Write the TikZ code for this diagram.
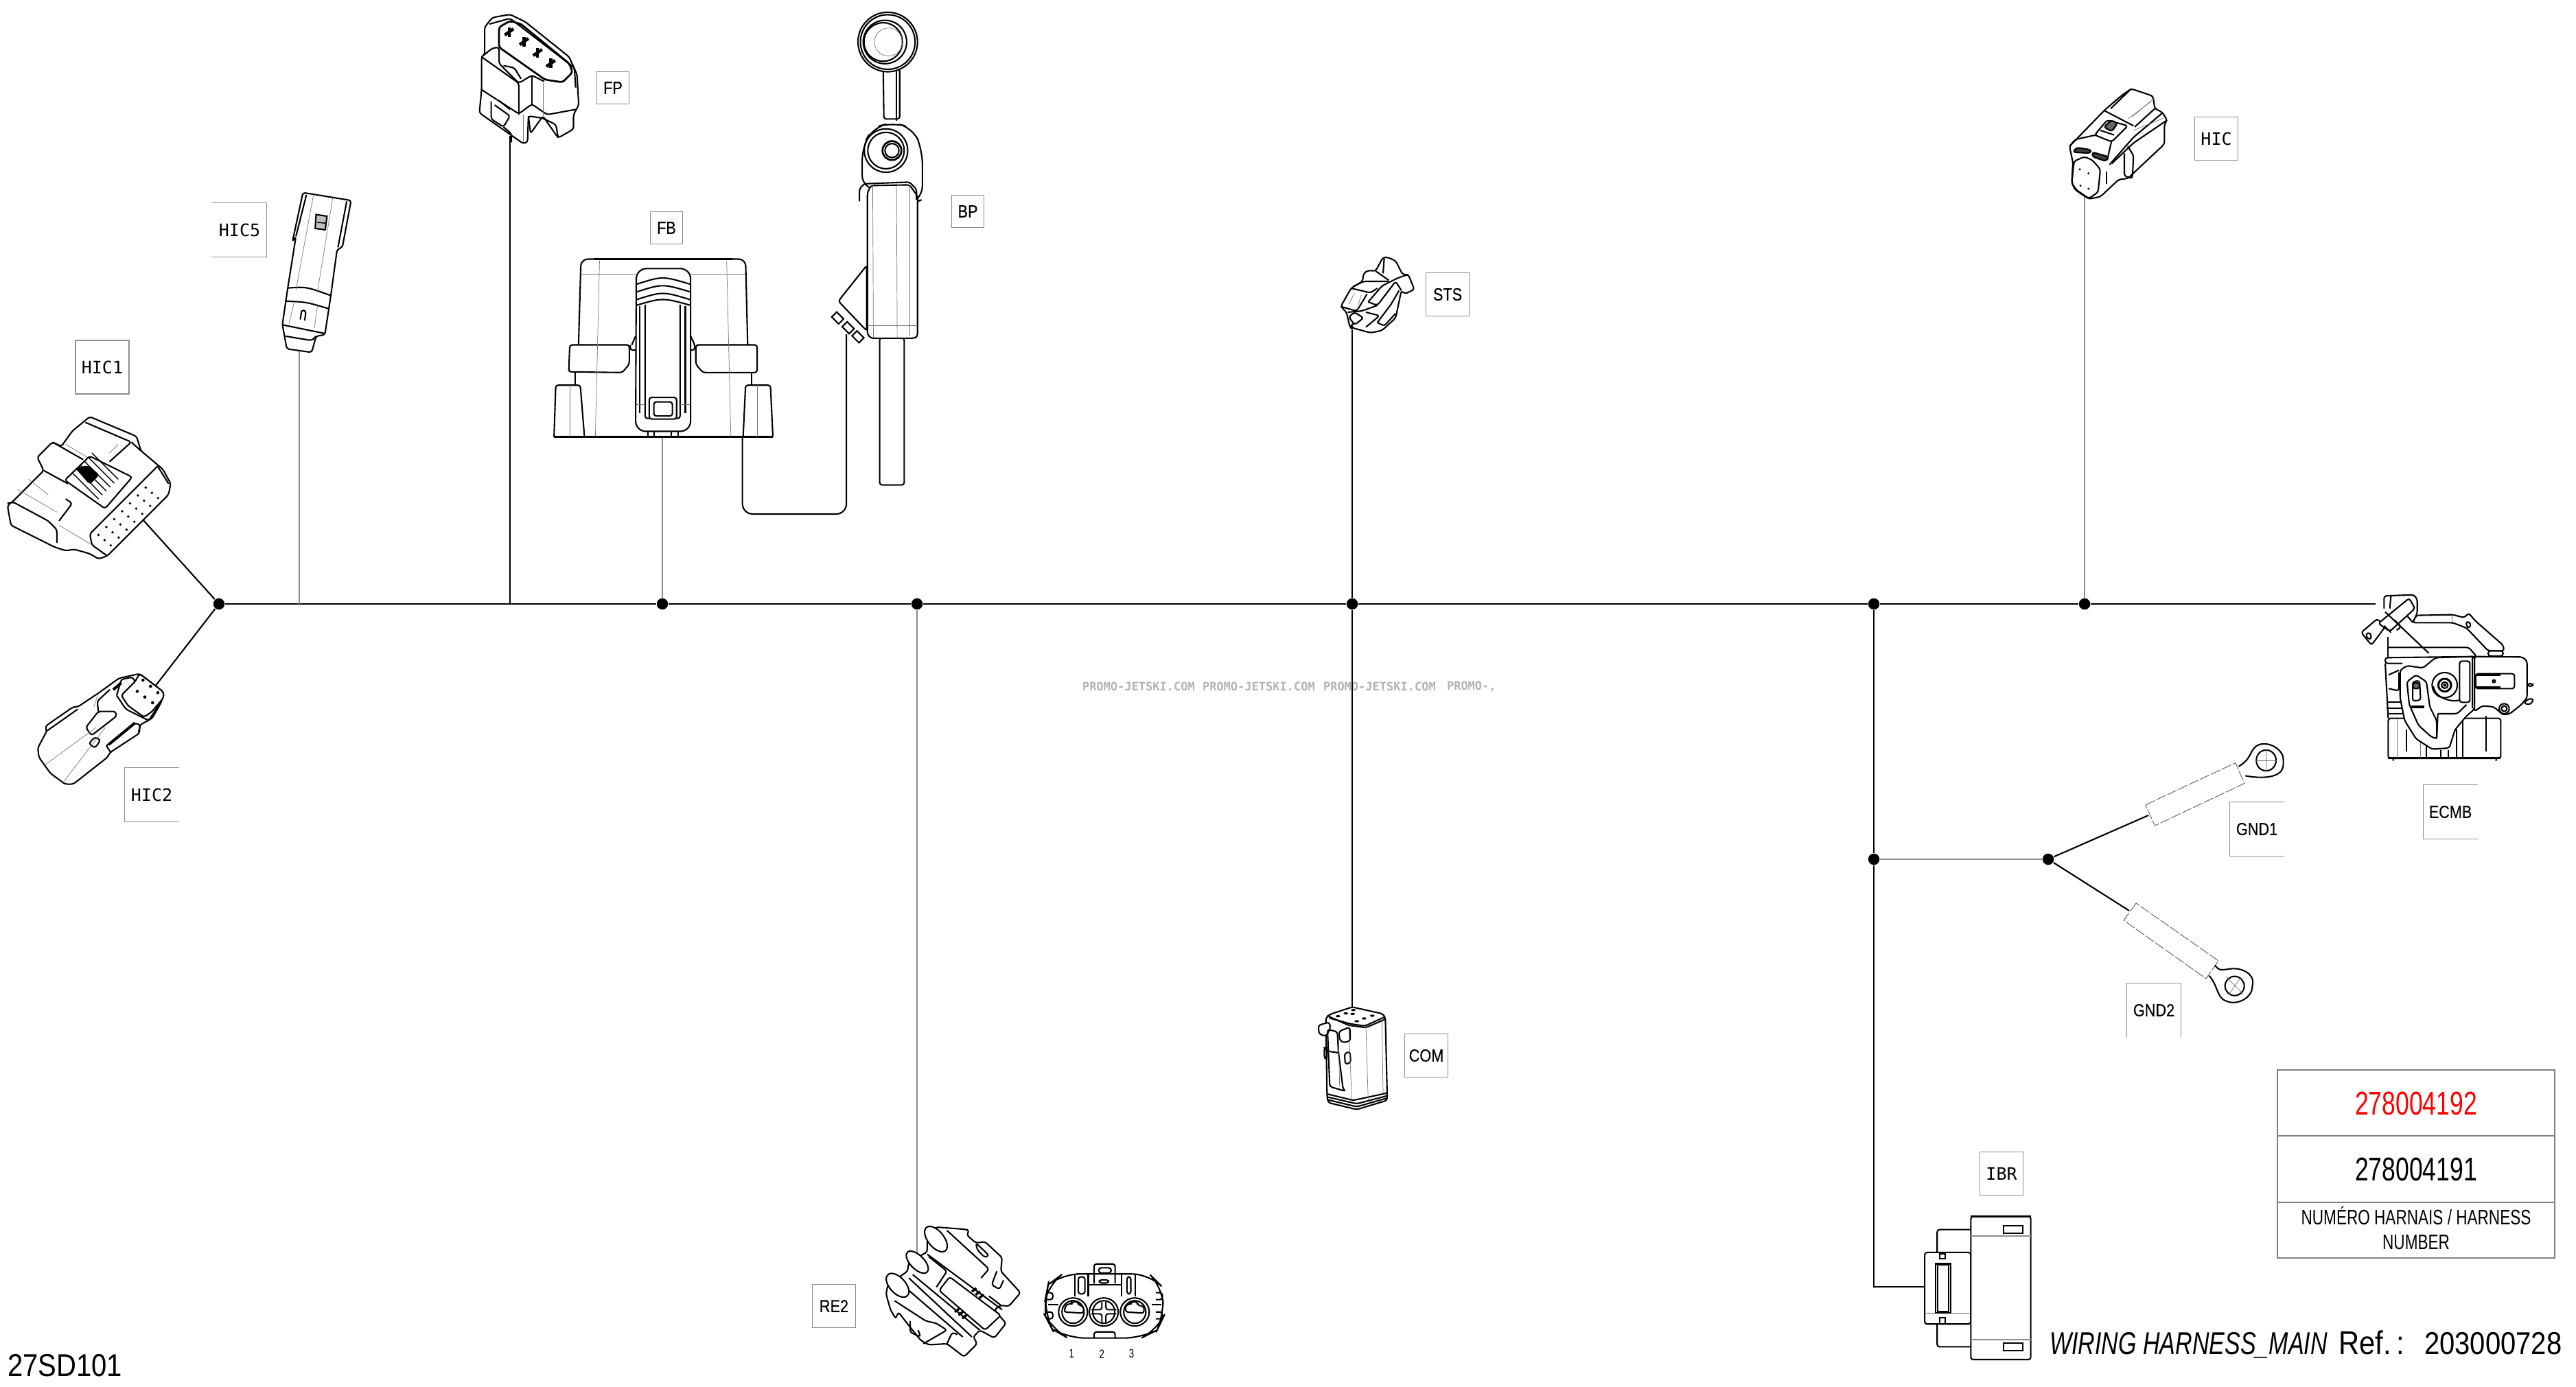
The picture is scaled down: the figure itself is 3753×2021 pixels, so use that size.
\documentclass[tikz,border=0pt]{standalone}
\usepackage{fontspec}
\setmainfont{Liberation Sans}
\newfontfamily\tagmono{DejaVu Sans Mono}
\newfontfamily\tagsans[FakeStretch=0.85,FakeBold=0.25]{Liberation Sans}
\newfontfamily\narrowfont[FakeStretch=0.74]{Liberation Sans}
\newfontfamily\refont[FakeStretch=0.87]{Liberation Sans}
\tikzset{
  wire/.style={draw=black, line width=0.42pt},
  lead/.style={draw=black!45, line width=0.34pt},
  joint/.style={circle, fill=black, inner sep=0pt, minimum size=3.3pt},
  part/.style={draw=black, line width=0.42pt, rounded corners=0.7pt, line join=round},
  fine/.style={draw=black!55, line width=0.14pt},
  sleeve/.style={draw=black!60, line width=0.2pt, dash pattern=on 3pt off 0.5pt},
  tagS/.style={draw=black!45, line width=0.25pt, inner sep=0pt, minimum size=9.4pt, font=\tagsans\fontsize{5.1}{6}\selectfont},
  tagM/.style={tagS, minimum size=12.6pt},
  tagL/.style={tagS, minimum size=15.6pt},
  tagmonofont/.style={font=\tagmono\fontsize{5}{6}\selectfont},
  tagopen/.style={draw=none},
  tagline/.style={draw=black!45, line width=0.25pt},
  tablerule/.style={draw=black!50, line width=0.3pt},
  stamp/.style={inner sep=0pt, text=black!30, font=\tagmono\bfseries\fontsize{3.4}{4}\selectfont},
}
\begin{document}
\begin{tikzpicture}[x=0.2pt,y=-0.2pt]
\useasboundingbox (0,0) rectangle (3753,2021);
% watermark
\node [stamp, anchor=west] (wma) at (1576,1000) {PROMO-JETSKI.COM};
\node [stamp, anchor=west] (wmb) at (1751,1000) {PROMO-JETSKI.COM};
\node [stamp, anchor=west] (wmc) at (1927,1000) {PROMO-JETSKI.COM};
\node [stamp, anchor=west] (wmd) at (2107,1000) {PROMO-,};
% junctions
\node [joint] (jleft) at (319,880) {};
\node [joint] (jfb) at (965,880) {};
\node [joint] (jre) at (1336,880) {};
\node [joint] (jcom) at (1970,880) {};
\node [joint] (jibr) at (2730,880) {};
\node [joint] (jhic) at (3037,880) {};
\node [joint] (jgnd) at (2730,1252) {};
\node [joint] (jfork) at (2984,1252) {};
% free ends
\coordinate (tfive) at (436,880);
\coordinate (tfp) at (743,880);
\coordinate (ehicone) at (198,746);
\coordinate (ehictwo) at (226,1000);
\coordinate (ehicfive) at (436,510);
\coordinate (efp) at (743,198);
\coordinate (efb) at (965,638);
\coordinate (ere) at (1336,1836);
\coordinate (ests) at (1970,480);
\coordinate (ecomp) at (1970,1470);
\coordinate (ehic) at (3037,260);
\coordinate (eecmb) at (3461,880);
\coordinate (eibr) at (2804,1875);
\coordinate (cibr) at (2730,1875);
\coordinate (egndone) at (3130,1188);
\coordinate (egndtwo) at (3102,1327);
% connectors
\draw [wire] (jleft) -- (tfive) -- (tfp) -- (jfb) -- (jre) -- (jcom) -- (jibr) -- (jhic) -- (eecmb);
\draw [wire] (jleft) -- (ehicone);
\draw [wire] (jleft) -- (ehictwo);
\draw [lead] (tfive) -- (ehicfive);
\draw [wire] (tfp) -- (efp);
\draw [lead] (jfb) -- (efb);
\draw [lead] (jre) -- (ere);
\draw [wire] (jcom) -- (ests);
\draw [wire] (jcom) -- (ecomp);
\draw [lead] (jhic) -- (ehic);
\draw [wire] (jibr) -- (jgnd) -- (cibr) -- (eibr);
\draw [lead] (jgnd) -- (jfork);
\draw [wire] (jfork) -- (egndone);
\draw [wire] (jfork) -- (egndtwo);
% HIC1, HIC5, FP
\begin{scope}[scale=0.6378]
% HIC1
\draw [part, fill=white] (205,952) -- (312,997) -- (322,1030) -- (372,1072) -- (390,1105) -- (385,1130) -- (245,1270) -- (225,1277) -- (205,1265) -- (170,1255) -- (150,1258) -- (125,1250) -- (25,1200) -- (17,1155) -- (30,1145) -- (100,1075) -- (85,1045) -- (120,1010) -- (140,1020) -- (165,985) -- cycle;
\draw [part] (17,1150) -- (30,1147) -- (110,1190) -- (130,1210) -- (130,1240);
\draw [part] (360,1065) -- (385,1105);
\draw [part] (360,1065) -- (205,1220) -- (210,1245) -- (245,1270);
\draw [part] (135,1190) -- (165,1150) -- (150,1140);
\draw [part] (100,1075) -- (155,1105);
\draw [part] (120,1010) -- (190,1050);
\draw [part] (195,965) -- (300,1010) -- (250,1055);
\draw [part] (322,1030) -- (300,1010);
\draw [fine] (40,1118) -- (130,1170);
\draw [fine] (150,1015) -- (200,1045);
\draw [fine] (65,1095) -- (110,1130);
\draw [fine] (270,1015) -- (250,1035);
\draw [fine] (135,1200) -- (210,1245);
\draw [part, fill=white] (148,1097) -- (205,1042) -- (302,1090) -- (240,1162) -- cycle;
\foreach \da in {0,9,18,27,36,45}
  \draw [draw=black, line width=0.3pt] (165+\da,1080-\da) -- (225+\da,1140-\da);
\draw [part, fill=black] (175,1070) -- (200,1065) -- (225,1085) -- (205,1105) -- cycle;
\foreach \gi in {0,...,6}
  \foreach \gj in {0,...,2}
    \fill (225+\gi*18+\gj*14,1222-\gi*18+\gj*12) circle (3);
% HIC5
\draw [part, fill=white] (692,440) -- (802,458) -- (782,565) -- (770,570) -- (755,680) -- (742,765) -- (722,768) -- (712,805) -- (655,797) -- (650,768) -- (645,742) -- (657,660) -- (676,540) -- (668,552) -- cycle;
\draw [part] (645,742) -- (742,762);
\draw [part] (657,658) .. controls (700,655) .. (755,675);
\draw [part] (652,688) .. controls (700,690) .. (750,705);
\draw [part] (700,445) -- (676,540);
\draw [part] (792,460) -- (772,565);
\draw [fine] (716,446) -- (676,662);
\draw [fine] (760,452) -- (725,668);
\draw [fine] (672,690) -- (660,740);
\draw [fine] (725,700) -- (718,750);
\draw [draw=black, line width=0.42pt, fill=black!25] (722,490) -- (747,494) -- (743,525) -- (720,522) -- cycle;
\draw [draw=black, line width=0.3pt] (725,508) -- (745,510);
\draw [part] (686,730) -- (689,708) -- (699,710) -- (696,732);
\draw [part] (652,768) -- (712,778) -- (722,768);
% FP
\draw [part, fill=white] (1107,125) -- (1107,62) -- (1125,40) -- (1165,33) -- (1200,50) -- (1300,130) -- (1318,170) -- (1322,240) -- (1310,262) -- (1310,295) -- (1275,315) -- (1270,285) -- (1240,270) -- (1207,265) -- (1205,325) -- (1195,328) -- (1095,258) -- (1100,205) -- (1100,130) -- cycle;
\draw [part, line width=0.55pt, fill=white] (1140,62) -- (1165,48) -- (1190,55) -- (1300,145) -- (1308,165) -- (1285,188) -- (1245,182) -- (1140,108) -- cycle;
\draw [part] (1118,55) -- (1165,42) -- (1312,155) -- (1315,200);
\foreach \px/\py in {1163/73,1197/95,1228/120,1258/145} {
  \draw [draw=black, line width=0.9pt] (\px-10,\py+7) -- (\px+10,\py-7);
  \draw [draw=black, line width=0.9pt] (\px,\py-11) -- (\px,\py+11);
}
\draw [part, fill=white] (1100,130) -- (1125,110) -- (1140,108) -- (1140,145) -- (1185,190) -- (1215,172) -- (1243,186);
\draw [part] (1100,130) -- (1185,190) -- (1185,262);
\draw [part] (1100,205) -- (1185,260) -- (1215,238) -- (1250,262) -- (1315,250);
\draw [part] (1215,172) -- (1215,238);
\draw [part] (1150,150) -- (1175,155) -- (1190,180);
\draw [part] (1122,232) -- (1122,272) -- (1150,290) -- (1165,265) -- (1130,240);
\draw [part] (1150,290) -- (1168,305) -- (1168,325);
\draw [part] (1207,265) -- (1212,305) -- (1240,265) -- (1275,315);
\draw [part] (1140,230) -- (1165,250);
\draw [fine] (1240,190) -- (1240,265);
\draw [fine] (1195,262) -- (1195,325);
\end{scope}
% FB, BP
\begin{scope}[shift={(700,0)},scale=0.5102]
% FB
\draw [part, fill=white, rounded corners=2pt] (280,985) -- (287,740) -- (757,740) -- (763,985);
\draw [draw=black, line width=0.6pt] (325,740) -- (720,740);
\draw [part, fill=white] (425,985) -- (255,985) -- (252,1062) -- (405,1064) -- (425,1040) -- cycle;
\draw [part, fill=white] (615,985) -- (790,985) -- (790,1064) -- (635,1064) -- (615,1040) -- cycle;
\draw [part] (270,1064) -- (270,1100);
\draw [part] (775,1064) -- (775,1100);
\draw [part] (297,1248) -- (285,1100) -- (215,1100) -- (210,1248);
\draw [part] (750,1248) -- (757,1100) -- (828,1100) -- (835,1248);
\draw [draw=black, line width=0.5pt] (210,1248) -- (835,1248);
\draw [fine] (340,745) -- (328,1248);
\draw [fine] (703,745) -- (715,1248);
\draw [fine] (287,783) -- (445,783);
\draw [fine] (600,783) -- (757,783);
\draw [fine] (255,1100) -- (255,1248);
\draw [fine] (790,1100) -- (790,1248);
\draw [part, fill=white, rounded corners=3pt] (443,1232) -- (445,767) -- (600,767) -- (600,1232) -- cycle;
\foreach \ry in {800,822,844} {
  \draw [part] (445,\ry+12) .. controls (520,\ry-12) .. (600,\ry+12);
}
\draw [part] (445,872) .. controls (520,850) .. (600,872);
\draw [part] (455,875) -- (455,1180);
\draw [part] (470,870) -- (470,1195) -- (570,1195) -- (570,870);
\draw [part] (585,875) -- (585,1180);
\draw [fine] (445,1155) -- (470,1155);
\draw [fine] (570,1155) -- (600,1155);
\draw [part, fill=white] (482,1135) rectangle (560,1197);
\draw [part] (495,1148) rectangle (548,1188);
\draw [part] (478,1232) -- (478,1248);
\draw [part] (495,1232) -- (495,1248);
\draw [part] (545,1232) -- (545,1248);
\draw [part] (565,1232) -- (565,1248);
\draw [part] (428,985) -- (428,1000) -- (443,1000);
\draw [part] (600,960) -- (612,985) -- (612,1000) -- (600,1000);
\draw [part] (443,960) -- (432,985);
% BP
\draw [part, rounded corners=3pt] (748,1248) -- (748,1468) -- (1045,1468) -- (1045,955);
\draw [part, fill=white] (1140,965) rectangle (1210,1385);
\draw [part, fill=white] (1150,195) -- (1152,340) -- (1197,340) -- (1197,195) -- cycle;
\draw [part] (1187,195) -- (1187,345);
\draw [part, fill=white] (1163,120) circle (85);
\draw [part] (1163,120) circle (78);
\draw [part] (1155,120) circle (62);
\draw [part] (1150,120) circle (55);
\draw [fine] (1165,120) circle (40);
\draw [part, fill=white, rounded corners=4pt] (1090,540) -- (1090,420) -- (1120,365) -- (1175,350) -- (1235,365) -- (1262,430) -- (1262,570) -- (1222,585) -- (1222,540) -- cycle;
\draw [part] (1158,430) circle (62);
\draw [part] (1158,430) circle (52);
\draw [part, line width=0.55pt] (1175,430) circle (27);
\draw [part] (1175,430) circle (20);
\draw [part] (1022,860) -- (1103,758) -- (1103,945) -- cycle;
\foreach \bx/\by in {1020/908,1050/936,1078/962}
  \draw [draw=black, line width=0.42pt, fill=white, rotate around={45:(\bx,\by)}] (\bx-10,\by-14) rectangle (\bx+10,\by+14);
\draw [part, fill=white] (1105,575) -- (1105,550) -- (1115,530) -- (1225,528) -- (1248,560) -- (1248,960) -- (1240,966) -- (1115,966) -- (1105,955) -- cycle;
\draw [part] (1082,575) -- (1082,540) -- (1095,525) -- (1225,520) -- (1245,540) -- (1245,570);
\draw [fine] (1120,530) -- (1122,962);
\draw [fine] (1188,530) -- (1190,962);
\draw [fine] (1225,530) -- (1225,960);
\draw [fine] (1105,930) -- (1248,930);
\end{scope}
% STS
\begin{scope}[shift={(1850,330)},scale=0.3333]
\draw [part, fill=white] (310,350) -- (355,270) -- (405,240) -- (410,205) -- (430,192) -- (462,195) -- (495,135) -- (515,135) -- (550,150) -- (580,210) -- (605,210) -- (632,275) -- (590,295) -- (575,280) -- (550,400) -- (490,455) -- (440,465) -- (350,440) -- (335,375) -- cycle;
\draw [part] (355,270) -- (440,290) -- (470,270);
\draw [part] (365,262) -- (410,240) -- (520,240);
\draw [part] (310,350) -- (380,370) -- (425,295);
\draw [part] (430,330) -- (490,260) -- (560,225) -- (605,210);
\draw [part] (430,330) -- (470,345) -- (550,240) -- (575,280);
\draw [part] (470,420) -- (530,340) -- (565,280);
\draw [part] (470,420) -- (500,435) -- (550,380);
\draw [part] (462,195) -- (520,235);
\draw [part] (500,140) -- (495,205);
\draw [part] (340,375) -- (400,370) -- (470,345);
\draw [part] (345,395) -- (370,375) -- (410,400) -- (370,430) -- cycle;
\draw [part] (420,375) -- (480,390) -- (420,440);
\draw [part] (350,440) -- (365,425);
\fill (357,440) circle (8);
\draw [fine] (345,340) -- (370,290);
\draw [fine] (385,345) -- (400,300);
\end{scope}
% COM
\begin{scope}[shift={(1850,1420)},scale=0.3333]
\draw [part, fill=white] (245,190) -- (260,175) -- (360,142) -- (495,172) -- (505,190) -- (513,530) -- (513,550) -- (380,590) -- (255,560) -- (250,530) -- cycle;
\draw [part] (260,190) -- (350,215) -- (415,225) -- (503,185);
\draw [part] (250,180) -- (345,222) -- (420,232) -- (505,195);
\draw [part] (250,522) -- (365,550) -- (513,518);
\draw [part] (250,535) -- (380,565) -- (513,530);
\draw [part] (255,548) -- (380,578) -- (513,540);
\draw [part, fill=white] (212,222) -- (260,208) -- (265,235) -- (245,270) -- (215,260) -- cycle;
\draw [part, fill=white] (302,248) -- (350,230) -- (352,290) -- (320,298) -- (305,285) -- cycle;
\draw [part] (252,240) -- (295,250) -- (300,340) -- (320,500) -- (330,510) -- (262,490) -- cycle;
\draw [part] (252,335) -- (300,342);
\draw [part] (238,320) -- (248,320) -- (250,370) -- (238,365) -- cycle;
\draw [part, fill=white] (326,345) -- (350,337) -- (354,385) -- (330,393) -- cycle;
\draw [fine] (420,230) -- (430,550);
\draw [fine] (345,220) -- (358,545);
\draw [fine] (490,190) -- (495,520);
\draw [fine] (300,250) -- (305,490);
\foreach \dx/\dy in {365/155,298/182,332/170,362/172,448/180,380/204,412/192}
  \fill (\dx,\dy) ellipse (10 and 5);
\end{scope}
% HIC
\begin{scope}[shift={(2980,100)},scale=0.3333]
\draw [part, fill=white] (105,340) -- (260,180) -- (330,120) -- (375,88) -- (470,120) -- (478,175) -- (510,190) -- (532,225) -- (520,245) -- (520,330) -- (360,480) -- (320,485) -- (240,560) -- (190,570) -- (130,530) -- (115,500) -- (120,410) -- cycle;
\draw [part] (260,185) -- (385,250);
\draw [part] (375,88) -- (285,175);
\draw [part] (478,175) -- (390,255);
\draw [part] (510,195) -- (385,300) -- (280,420);
\draw [part] (532,225) -- (385,325) -- (290,415);
\draw [part] (105,340) -- (130,310) -- (220,290) -- (290,310) -- (270,400);
\draw [part, fill=white] (215,290) -- (270,225) -- (360,250) -- (290,320) -- cycle;
\draw [part, fill=black!60] (255,255) -- (290,225) -- (315,240) -- (290,275) -- cycle;
\draw [part] (240,270) -- (300,290);
\draw [part, fill=black!75] (135,345) -- (200,355) -- (195,370) -- (120,365) -- cycle;
\draw [part, fill=black!75] (205,365) -- (275,385) -- (265,405) -- (205,385) -- cycle;
\draw [part, fill=white] (125,405) -- (170,385) -- (205,400) -- (240,440) -- (230,540) -- (190,568) -- (135,530) -- (115,500) -- cycle;
\draw [part] (345,370) -- (345,470) -- (380,480) -- (385,380) -- (360,340);
\draw [part] (268,450) -- (268,505);
\draw [fine] (380,210) -- (475,130);
\draw [fine] (360,220) -- (460,145);
\draw [fine] (385,270) -- (520,215);
\foreach \dx/\dy in {150/440,188/458,153/512,188/525}
  \fill (\dx,\dy) circle (5);
\end{scope}
% HIC2
\begin{scope}[shift={(30,950)},scale=0.3333]
\draw [part, fill=white] (520,95) -- (625,175) -- (615,220) -- (575,290) -- (520,320) -- (520,355) -- (390,440) -- (380,460) -- (230,578) -- (195,578) -- (130,530) -- (80,460) -- (75,420) -- (115,345) -- (108,325) -- (230,240) -- (250,240) -- (340,180) -- (430,115) -- cycle;
\draw [part] (115,345) -- (250,250);
\draw [part, fill=white] (285,330) -- (340,260) -- (415,260) -- (420,280) -- (310,365) -- cycle;
\draw [part] (340,260) -- (335,215) -- (390,165);
\draw [part] (375,410) -- (500,310) -- (525,320) -- (515,350);
\draw [draw=black, line width=0.8pt] (385,405) -- (500,310);
\draw [part] (375,410) -- (395,440);
\draw [part, fill=white] (298,400) -- (325,372) -- (350,385) -- (325,420) -- cycle;
\draw [part, fill=white] (440,190) -- (500,130) -- (520,95) -- (625,175) -- (625,200) -- (575,260) -- (540,285) -- (470,235) -- cycle;
\draw [part] (420,190) -- (460,250) -- (560,300) -- (605,230);
\draw [part] (420,190) -- (440,120) -- (490,110) -- (500,130);
\draw [draw=black, line width=0.8pt] (405,165) -- (440,135);
\draw [fine] (105,495) -- (330,330);
\draw [fine] (190,565) -- (370,330);
\draw [fine] (340,180) -- (320,240);
\foreach \dx/\dy in {535/123,568/150,600/178,510/172,543/197,577/222}
  \fill (\dx,\dy) circle (7);
\end{scope}
% ECMB
\begin{scope}[shift={(3420,850)},scale=0.3333]
\draw [part] (178,235) -- (178,325);
\draw [part, fill=white] (178,280) -- (530,280) -- (565,320) -- (165,325) -- (165,350) -- (240,350);
\draw [part] (178,590) rectangle (670,765);
\draw [draw=black, line width=0.6pt] (178,765) -- (670,765);
\draw [part] (165,350) -- (178,590);
\draw [part] (178,520) -- (240,520);
\draw [part] (170,545) -- (240,545);
\draw [part] (178,570) -- (240,570);
\draw [part] (180,400) -- (225,380);
\draw [part] (180,460) -- (225,470) -- (225,390);
\draw [fine] (218,590) -- (218,765);
\draw [part] (258,640) -- (258,735);
\draw [fine] (318,630) -- (318,765);
\draw [part] (345,600) -- (345,765);
\draw [part] (407,730) -- (407,765);
\draw [part] (440,730) -- (440,765);
\draw [part] (478,640) -- (478,765);
\draw [part] (505,600) -- (505,765);
\draw [part] (605,580) -- (605,735);
\fill (200,772) circle (5);
\fill (650,772) circle (5);
% tube on top
\draw [part, fill=white] (285,172) -- (300,140) -- (460,137) -- (510,150) -- (530,130) -- (560,165) -- (680,270) -- (685,295) -- (615,295) -- (520,195) -- (460,172) -- cycle;
\draw [fine] (458,137) -- (458,172);
\draw [part] (520,165) -- (540,175) -- (535,195) -- (520,190) -- cycle;
\draw [part] (615,295) rectangle (680,318);
\draw [part, fill=white] (160,110) -- (160,55) -- (290,50) -- (305,70) -- (305,130) -- (285,172);
\draw [part] (190,55) -- (185,110);
\draw [part] (250,130) -- (285,170);
% box on the right
\draw [part, fill=white] (555,320) -- (765,322) -- (785,340) -- (785,500) -- (760,530) -- (710,570) -- (680,575) -- (640,540) -- (590,535) -- (555,560) -- cycle;
\draw [part, fill=white] (560,395) rectangle (730,460);
\draw [draw=black, line width=0.7pt] (560,400) -- (670,400);
\draw [draw=black, line width=0.7pt] (560,455) -- (670,455);
\draw [part] (640,428) circle (6);
\draw [part, fill=white] (685,548) circle (22);
\draw [part] (685,548) circle (12);
\draw [part, fill=white] (770,525) -- (790,505) -- (815,505) -- (800,530) -- cycle;
\draw [part] (788,438) rectangle (810,450);
% bracket
\draw [part, fill=white] (230,380) -- (260,360) -- (330,370) -- (385,325) -- (555,320) -- (555,550) -- (520,580) -- (470,640) -- (445,720) -- (370,725) -- (300,680) -- (250,600) -- (230,500) -- cycle;
\draw [part] (490,340) rectangle (535,520);
\draw [part] (545,322) -- (545,545);
\draw [part, fill=white] (260,430) -- (300,400) -- (345,430) -- (360,540) -- (390,600) -- (390,680) -- (365,670) -- (310,620) -- (270,530) -- cycle;
\draw [part] (285,430) -- (315,425) -- (320,510) -- (285,515) -- cycle;
\draw [draw=black, line width=0.8pt] (280,540) -- (335,540);
\draw [part, fill=black!60] (285,435) rectangle (315,460);
\draw [part] (395,570) -- (480,570) -- (520,530);
\draw [part] (395,570) -- (390,680);
\draw [part] (425,445) circle (55);
\draw [part] (375,450) .. controls (385,510) and (470,520) .. (490,510);
\draw [part, line width=0.6pt] (425,445) circle (28);
\draw [part] (425,445) circle (14);
\draw [part] (425,445) circle (5);
% plug
\draw [part, fill=white] (60,215) -- (130,155) -- (165,190) -- (105,270) -- cycle;
\draw [part] (80,220) -- (100,215) -- (105,245) -- (85,240) -- cycle;
\draw [part, fill=white] (135,175) -- (270,65) -- (295,110) -- (185,210) -- cycle;
\draw [part] (160,185) -- (190,215);
\draw [part] (205,160) -- (235,190) -- (215,205);
\draw [wire] (165,125) -- (355,305);
\end{scope}
% IBR
\begin{scope}[shift={(2700,1500)},xscale=0.6716,yscale=0.3322]
\draw [part] (255,878) -- (182,878) -- (182,978);
\draw [part] (255,1392) -- (182,1392) -- (182,1292);
\draw [part, fill=white] (155,978) -- (255,978) -- (255,1292) -- (155,1292) -- cycle;
\draw [fine] (155,1245) -- (255,1245);
\draw [draw=black, line width=0.42pt] (178,1028) rectangle (212,1242);
\draw [draw=black, line width=0.42pt] (183,1032) rectangle (207,1238);
\draw [draw=black, line width=0.42pt] (187,985) rectangle (200,1005);
\draw [draw=black, line width=0.42pt] (187,1265) rectangle (200,1290);
\draw [part, fill=white] (255,820) rectangle (385,1448);
\draw [draw=black, line width=0.6pt] (255,820) -- (385,820);
\draw [lead] (255,905) -- (385,905);
\draw [lead] (255,1360) -- (385,1360);
\draw [draw=black, line width=0.42pt] (326,862) rectangle (368,895);
\draw [draw=black, line width=0.42pt] (326,1376) rectangle (368,1408);
\end{scope}
% RE2 and its front view
\begin{scope}[shift={(1150,1750)},xscale=0.3827,yscale=0.33]
\draw [part, fill=white] (558,115) -- (670,125) -- (685,130) -- (675,150) -- (710,185) -- (745,180) -- (810,250) -- (805,310) -- (880,405) -- (835,465) -- (805,460) -- (780,480) -- (825,540) -- (780,605) -- (725,570) -- (700,600) -- (715,630) -- (665,688) -- (600,630) -- (530,635) -- (500,615) -- (455,550) -- (415,490) -- (405,520) -- (385,480) -- (368,410) -- (375,370) -- (450,310) -- (455,270) -- (525,225) -- (525,170) -- cycle;
\draw [part] (600,130) -- (760,300) -- (730,340);
\draw [part] (525,235) -- (810,480);
\draw [part] (530,245) -- (600,310) -- (560,380);
\draw [part] (470,325) -- (725,570);
\draw [part] (455,340) -- (695,600);
\draw [part] (445,385) -- (660,600);
\draw [part] (400,440) -- (520,530) -- (560,540) -- (600,570) -- (510,630);
\draw [part, fill=white] (570,395) -- (610,335) -- (805,505) -- (745,570) -- cycle;
\draw [part] (710,185) -- (760,240) -- (745,250) -- (715,215) -- cycle;
\draw [part] (790,310) -- (770,370) -- (800,390) -- (815,350);
\draw [part] (805,460) -- (760,420);
\draw [part] (460,530) -- (460,580) -- (500,600) -- (490,570);
\draw [part] (600,630) -- (620,580) -- (640,590);
\foreach \sx in {0,14,28} {
  \draw [draw=black, line width=0.7pt] (695+\sx,400+\sx) -- (712+\sx,385+\sx);
  \draw [draw=black, line width=0.7pt] (630+\sx,490+\sx) -- (647+\sx,475+\sx);
}
\draw [part, fill=white] (558,168) ellipse [x radius=63, y radius=32, rotate=-58];
\draw [part, fill=white] (487,270) ellipse [x radius=58, y radius=28, rotate=-52];
\draw [part, fill=white] (412,372) ellipse [x radius=60, y radius=32, rotate=-55];
% front view
\draw [part, fill=white, rounded corners=5pt] (975,430) -- (985,370) -- (1040,322) -- (1160,322) -- (1370,322) -- (1420,380) -- (1425,510) -- (1400,570) -- (1340,605) -- (1060,605) -- (1000,565) -- (975,510) -- cycle;
\draw [part] (1160,365) -- (1160,278) -- (1240,278) -- (1240,365);
\draw [part] (1178,318) -- (1178,295) -- (1225,295) -- (1225,318) -- cycle;
\draw [part] (1140,370) -- (1265,370);
\draw [part] (1180,362) rectangle (1215,348);
\draw [part] (1160,605) -- (1160,578) -- (1240,578) -- (1240,605);
\foreach \cx in {1080,1197,1315} {
  \draw [part, fill=white] (\cx,490) ellipse (55 and 62);
  \draw [part] (\cx,490) ellipse (42 and 50);
}
\draw [part] (1088,322) -- (1088,420);
\draw [part] (1138,322) -- (1138,420);
\draw [part] (1100,335) rectangle (1125,410);
\draw [part] (1265,322) -- (1265,420);
\draw [part] (1318,322) -- (1318,420);
\draw [part] (1285,335) rectangle (1300,410);
\draw [part] (1045,490) -- (1055,455) -- (1075,455) -- (1075,445) -- (1100,445) -- (1100,460) -- (1120,465) -- (1120,495) -- cycle;
\draw [part] (1280,490) -- (1280,460) -- (1300,455) -- (1300,445) -- (1325,445) -- (1325,460) -- (1350,465) -- (1350,495) -- cycle;
\draw [part] (1150,480) -- (1190,480) -- (1190,445);
\draw [part] (1205,445) -- (1205,480) -- (1245,480);
\draw [part] (1150,498) -- (1190,498) -- (1190,535);
\draw [part] (1205,535) -- (1205,498) -- (1245,498);
\draw [part] (980,405) -- (1003,405) -- (1003,435) -- (980,435);
\draw [part] (980,490) -- (1003,490) -- (1003,520) -- (980,520);
\draw [part] (985,458) -- (1025,458);
\draw [part] (1395,405) -- (1420,405) -- (1420,435) -- (1395,435);
\draw [part] (1395,490) -- (1420,490) -- (1420,520) -- (1395,520);
\draw [part] (1380,458) -- (1415,458);
\node [font=\narrowfont\fontsize{3.6}{4}\selectfont, inner sep=0pt] (pinone) at (1075,675) {1};
\node [font=\narrowfont\fontsize{3.6}{4}\selectfont, inner sep=0pt] (pintwo) at (1190,675) {2};
\node [font=\narrowfont\fontsize{3.6}{4}\selectfont, inner sep=0pt] (pinthree) at (1303,675) {3};
\end{scope}
% ground eyelets
\begin{scope}[shift={(3000,800)},xscale=0.4802,yscale=0.4464]
\draw [sleeve] (262,835) -- (535,698) -- (562,765) -- (290,903) -- cycle;
\draw [part] (545,710) .. controls (570,690) .. (590,650) .. controls (625,620) and (680,650) .. (680,695) .. controls (680,750) and (610,750) .. (565,740);
\draw [part] (628,690) ellipse (30 and 34);
\draw [fine] (595,690) -- (660,690);
\draw [fine] (628,655) -- (628,725);
\end{scope}
\draw [sleeve] (3112,1316) -- (3094,1341) -- (3214,1426) -- (3232,1400) -- cycle;
\begin{scope}[shift={(3080,1380)},scale=0.3333]
\draw [part] (440,80) .. controls (460,100) .. (490,98) .. controls (560,85) and (610,120) .. (605,165) .. controls (600,225) and (540,250) .. (495,238) .. controls (450,220) and (450,160) .. (415,125);
\draw [part] (527,170) circle (42);
\draw [fine] (490,130) -- (565,205);
\draw [fine] (555,130) -- (500,210);
\end{scope}
% tags
\node [tagS] (fp) at (893,128) {FP};
\node [tagS] (fb) at (971,332) {FB};
\node [tagS] (bp) at (1410,308) {BP};
\node [tagL, tagmonofont] (hicone) at (149,535) {HIC1};
\node [tagL, tagmonofont, tagopen] (hicfive) at (349,335) {HIC5};
\node [tagL, tagmonofont, tagopen] (hictwo) at (221,1158) {HIC2};
\node [tagM] (sts) at (2109,429) {STS};
\node [tagM] (com) at (2078,1538) {COM};
\node [tagM, tagmonofont] (hic) at (3229,202) {HIC};
\node [tagM] (re) at (1215,1903) {RE2};
\node [tagM, tagmonofont] (ibr) at (2916,1710) {IBR};
\node [tagL, tagopen] (gndone) at (3288,1208) {GND1};
\node [tagL, tagopen] (ecmb) at (3570,1183) {ECMB};
\node [tagL, tagopen] (gndtwo) at (3138,1472) {GND2};
\draw [tagline] (hicfive.north west) -- (hicfive.north east) -- (hicfive.south east) -- (hicfive.south west);
\draw [tagline] (hictwo.north east) -- (hictwo.north west) -- (hictwo.south west) -- (hictwo.south east);
\draw [tagline] (gndone.north east) -- (gndone.north west) -- (gndone.south west) -- (gndone.south east);
\draw [tagline] (ecmb.north east) -- (ecmb.north west) -- (ecmb.south west) -- (ecmb.south east);
\draw [tagline] (gndtwo.south west) -- (gndtwo.north west) -- (gndtwo.north east) -- (gndtwo.south east);
% harness number table
\coordinate (tnw) at (3318,1559);
\coordinate (tne) at (3722,1559);
\coordinate (tma) at (3318,1655);
\coordinate (tmb) at (3722,1655);
\coordinate (tmc) at (3318,1752);
\coordinate (tmd) at (3722,1752);
\coordinate (tsw) at (3318,1833);
\coordinate (tse) at (3722,1833);
\draw [tablerule] (tnw) -- (tne) -- (tse) -- (tsw) -- cycle;
\draw [tablerule] (tma) -- (tmb);
\draw [tablerule] (tmc) -- (tmd);
\node [inner sep=0pt, text=red, font=\narrowfont\fontsize{9.6}{10}\selectfont] (numnew) at (3520,1608) {278004192};
\node [inner sep=0pt, font=\narrowfont\fontsize{9.6}{10}\selectfont] (numold) at (3520,1704) {278004191};
\node [inner sep=0pt, align=center, font=\narrowfont\fontsize{6.1}{7.2}\selectfont] (numtitle) at (3520,1789) {NUMÉRO HARNAIS / HARNESS\\NUMBER};
% captions
\node [inner sep=0pt, anchor=base west, font=\narrowfont\itshape\fontsize{9.2}{10}\selectfont] (title) at (2985,1973) {WIRING HARNESS\_MAIN};
\node [inner sep=0pt, anchor=base west, font=\refont\fontsize{9.6}{10}\selectfont] (refword) at (3406,1973) {Ref.\,:};
\node [inner sep=0pt, anchor=base west, font=\refont\fontsize{9.2}{10}\selectfont] (refnum) at (3531,1973) {203000728};
\node [inner sep=0pt, anchor=base west, font=\refont\fontsize{9.2}{10}\selectfont] (sheet) at (10,2005) {27SD101};
\end{tikzpicture}
\end{document}
